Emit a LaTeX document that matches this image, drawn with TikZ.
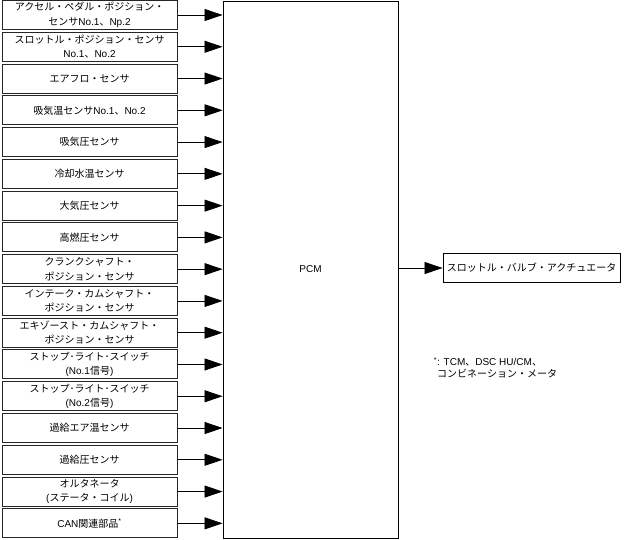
\documentclass[tikz,border=0pt]{standalone}
\usepackage{fontspec}
\setmainfont{Noto Sans CJK JP}
\newfontfamily\lf{Liberation Sans}
\newcommand{\la}[1]{{\lf #1}}
\usetikzlibrary{arrows.meta}
\begin{document}
\begin{tikzpicture}[x=1pt,y=-1pt,
  inbox/.style={draw=black!85,line width=1pt,minimum width=175pt,minimum height=29pt,inner sep=0pt,align=center,font=\fontsize{10}{14.5}\selectfont},
  arr/.style={line width=0.8pt,-{Triangle[length=18pt,width=12pt]}},
  every node/.style={font=\fontsize{10}{14.5}\selectfont}]
\useasboundingbox (0,0) rectangle (628,539);
\node[draw,line width=0.9pt,minimum width=175pt,minimum height=537pt,inner sep=0pt] (pcm) at (310.5,269.5) {\la{PCM}};
\foreach \t [count=\i] in {
  {アクセル・ペダル・ポジション・\\センサ\la{No.1}、\la{Np.2}},
  {スロットル・ポジション・センサ\\\la{No.1}、\la{No.2}},
  {エアフロ・センサ},
  {吸気温センサ\la{No.1}、\la{No.2}},
  {吸気圧センサ},
  {冷却水温センサ},
  {大気圧センサ},
  {高燃圧センサ},
  {クランクシャフト・\\ポジション・センサ},
  {インテーク・カムシャフト・\\ポジション・センサ},
  {エキゾースト・カムシャフト・\\ポジション・センサ},
  {ストップ･ライト･スイッチ\\\la{(No.1}信号\la{)}},
  {ストップ･ライト･スイッチ\\\la{(No.2}信号\la{)}},
  {過給エア温センサ},
  {過給圧センサ},
  {オルタネータ\\\la{(}ステータ・コイル\la{)}},
  {\la{CAN}関連部品\textsuperscript{\la{*}}}}{
  \node[inbox] (b\i) at (89.5,{15+31.77*(\i-1)}) {\t};
  \draw[arr] (b\i.east) -- (b\i.east -| pcm.west);
}
\node[draw,line width=0.9pt,minimum width=177pt,minimum height=29pt,inner sep=0pt] (act) at (531.5,268) {スロットル・バルブ・アクチュエータ};
\draw[arr] (act.west -| pcm.east) -- (act.west);
\node[anchor=north west,align=left,inner sep=0pt,font=\fontsize{10}{12}\selectfont] (note) at (437,357) {\llap{\textsuperscript{\la{*}}}\la{: TCM}、\la{DSC HU/CM}、\\コンビネーション・メータ};
\end{tikzpicture}
\end{document}
